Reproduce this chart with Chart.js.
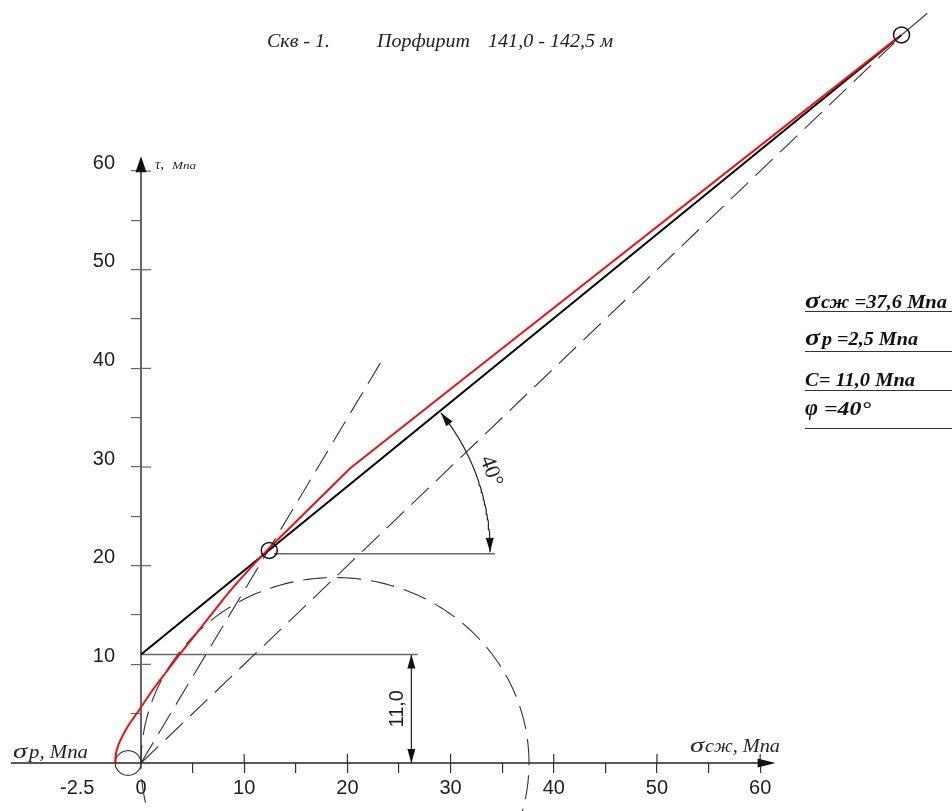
<!DOCTYPE html>
<html>
<head>
<meta charset="utf-8">
<script src="https://cdn.jsdelivr.net/npm/chart.js@4.4.1/dist/chart.umd.min.js"></script>
<style>
  html, body { margin: 0; padding: 0; background: #fff; }
  #wrap { width: 952px; height: 811px; }
</style>
</head>
<body>
<div id="wrap"><canvas id="chart" width="952" height="811"></canvas></div>
<script>
'use strict';

// axis ticks (labels only on multiples of 10)
const xTickValues = [0, 5, 10, 15, 20, 25, 30, 35, 40, 45, 50, 55, 60];
const yTickValues = [5, 10, 15, 20, 25, 30, 35, 40, 45, 50, 55, 60];

// test results
const sigmaCompr = 37.6;
const sigmaTens = 2.5;
const cohesion = 11.0;
const phiDeg = 40;

// Coulomb envelope (through both contact points)
const envX = [0, 73.7];
const envY = [11.0, 73.8];
const envExtX = [73.7, 76.2];
const envExtY = [73.8, 76.0];

// red experimental envelope
const redCurveX = [-2.5, -2.46, -2.3, -2.0, -1.4, -0.7, -0.1, 1.2, 2.5, 3.6, 5.4, 7.0, 8.6, 10.2, 11.7, 12.43];
const redCurveY = [0, 0.7, 1.5, 2.3, 3.5, 4.6, 5.5, 7.5, 9.3, 10.8, 13.2, 15.3, 17.4, 19.3, 21.0, 21.8];
const redLineX = [12.43, 20.3, 31.2, 73.3];
const redLineY = [21.8, 29.9, 38.9, 73.5];

// contact points (open circles)
const markX = [12.43, 73.7];
const markY = [21.55, 73.8];

// dashed rays from origin
const ray1X = [0, 23.4];
const ray1Y = [0, 40.9];
const ray2X = [0, 73.0];
const ray2Y = [0, 73.0];

// axes extent
const axisXStart = -12.6;
const axisXEnd = 61.5;
const axisYEnd = 61.5;

// cohesion dimension
const cLineEnd = 26.8;
const dimX = 26.2;

// angle mark
const angleBaseX = [12.9, 34.3];
const angleBaseY = 21.2;
const arcCx = 12.43, arcCy = 21.4;
const arcRx = 21.4, arcRy = 22.4;
const arcEnd = 39;

function pts(xs, ys) {
    return xs.map((x, i) => ({ x: x, y: ys[i] }));
}

function ellipse(cx, cy, rx, ry, a0, a1, n) {
    const out = [];
    for (let i = 0; i <= n; i++) {
        const t = (a0 + (a1 - a0) * i / n) * Math.PI / 180;
        out.push({ x: cx + rx * Math.cos(t), y: cy + ry * Math.sin(t) });
    }
    return out;
}

function line(data, opts) {
    return Object.assign({
        data: data,
        showLine: true,
        pointRadius: 0,
        clip: false,
        borderColor: '#000',
        borderWidth: 1,
        tension: 0,
        capBezierPoints: false
    }, opts);
}

function arrowHead(ctx, x, y, ang, len, hw, color) {
    ctx.save();
    ctx.translate(x, y);
    ctx.rotate(ang);
    ctx.beginPath();
    ctx.moveTo(0, 0);
    ctx.lineTo(-len, -hw);
    ctx.lineTo(-len, hw);
    ctx.closePath();
    ctx.fillStyle = color;
    ctx.fill();
    ctx.restore();
}

function fitText(ctx, s, x, y, font, color, width, rot, align) {
    ctx.save();
    ctx.font = font;
    ctx.fillStyle = color;
    ctx.textAlign = align || 'left';
    ctx.textBaseline = align ? 'middle' : 'alphabetic';
    ctx.translate(x, y);
    if (rot) ctx.rotate(rot);
    if (width) ctx.scale(width / ctx.measureText(s).width, 1);
    ctx.fillText(s, 0, 0);
    ctx.restore();
}

const labelColor = '#1d2233';
const serif = 'Liberation Serif';

const drawings = {
    id: 'drawings',
    afterDraw(chart) {
        const ctx = chart.ctx;
        const xs = chart.scales.x, ys = chart.scales.y;
        const px = v => xs.getPixelForValue(v);
        const py = v => ys.getPixelForValue(v);
        const x0 = px(0), y0 = py(0);

        ctx.save();
        // upper half of major x ticks, right half of major y ticks
        ctx.lineWidth = 1.2;
        ctx.strokeStyle = '#333';
        xTickValues.filter(v => v > 0 && v % 10 === 0).forEach(v => {
            ctx.beginPath();
            ctx.moveTo(px(v), y0);
            ctx.lineTo(px(v), y0 - 9);
            ctx.stroke();
        });
        ctx.strokeStyle = '#666';
        yTickValues.filter(v => v % 10 === 0).forEach(v => {
            ctx.beginPath();
            ctx.moveTo(x0, py(v));
            ctx.lineTo(x0 + 10, py(v));
            ctx.stroke();
        });
        ctx.restore();

        // arrowheads
        arrowHead(ctx, px(axisXEnd), y0, 0, 18, 4.5, '#111');
        arrowHead(ctx, x0, py(axisYEnd), -Math.PI / 2, 16, 5.5, '#111');
        arrowHead(ctx, px(dimX), py(cohesion), -Math.PI / 2, 14, 4, '#111');
        arrowHead(ctx, px(dimX), y0, Math.PI / 2, 14, 4, '#111');
        const arcPx = t => {
            const r = t * Math.PI / 180;
            return [px(arcCx + arcRx * Math.cos(r)), py(arcCy + arcRy * Math.sin(r))];
        };
        const a1 = arcPx(arcEnd), a1b = arcPx(arcEnd - 3);
        arrowHead(ctx, a1[0], a1[1], Math.atan2(a1[1] - a1b[1], a1[0] - a1b[0]), 14, 4, '#111');
        const b1 = arcPx(0), b1b = arcPx(3);
        arrowHead(ctx, b1[0], b1[1], Math.atan2(b1[1] - b1b[1], b1[0] - b1b[0]), 14, 4, '#111');

        // texts
        const tickFont = '20px "Liberation Sans"';
        fitText(ctx, '-2.5', px(-sigmaTens) - 38, 788, tickFont, '#1e1e1e', 0, 0, 'center');
        fitText(ctx, '11,0', px(dimX) - 14, py(cohesion / 2), tickFont, '#1e1e1e', 0, -Math.PI / 2, 'center');
        const arcMid = 20 * Math.PI / 180;
        const cpx = px(arcCx), cpy = py(arcCy), rpx = px(arcRx) - px(0);
        fitText(ctx, '40°', cpx + (rpx + 15) * Math.cos(arcMid), cpy - (rpx + 15) * Math.sin(arcMid),
            '22px "' + serif + '"', labelColor, 0, (90 - 20) * Math.PI / 180, 'center');

        // title
        const tFont = 'italic 18px "' + serif + '"';
        fitText(ctx, 'Скв - 1.', 267, 47, tFont, '#222', 63);
        fitText(ctx, 'Порфирит', 377, 47, tFont, '#222', 93);
        fitText(ctx, '141,0 - 142,5 м', 488, 47, tFont, '#222', 125);

        // axis names
        fitText(ctx, 'σ', 13, 758, 'italic 22px "' + serif + '"', labelColor, 14);
        fitText(ctx, 'р, Мпа', 29, 758, 'italic 18px "' + serif + '"', labelColor, 59);
        fitText(ctx, 'σ', 690, 752, 'italic 22px "' + serif + '"', labelColor, 14);
        fitText(ctx, 'сж, Мпа', 705, 752, 'italic 18px "' + serif + '"', labelColor, 75);
        fitText(ctx, 'τ,', 155, 169, 'italic 15px "' + serif + '"', labelColor, 0);
        fitText(ctx, 'Мпа', 172, 169, 'italic 11px "' + serif + '"', labelColor, 24);

        // parameter table
        const bFont = 'bold italic 18px "' + serif + '"';
        const gFont = 'bold italic 23px "' + serif + '"';
        fitText(ctx, 'σ', 805, 308, gFont, '#111', 15);
        fitText(ctx, 'сж =' + sigmaCompr.toFixed(1).replace('.', ',') + ' Мпа', 821, 308, bFont, '#111', 126);
        fitText(ctx, 'σ', 805, 345, gFont, '#111', 15);
        fitText(ctx, 'р =' + sigmaTens.toFixed(1).replace('.', ',') + ' Мпа', 822, 345, bFont, '#111', 96);
        fitText(ctx, 'C= ' + cohesion.toFixed(1).replace('.', ',') + ' Мпа', 805, 386, bFont, '#111', 110);
        fitText(ctx, 'φ', 805, 415, gFont, '#111', 13);
        fitText(ctx, '=' + phiDeg + '°', 824, 415, bFont, '#111', 47);
        ctx.save();
        ctx.strokeStyle = '#333';
        ctx.lineWidth = 1;
        [311.5, 351.5, 390.5, 428.5].forEach(y => {
            ctx.beginPath();
            ctx.moveTo(805, y);
            ctx.lineTo(952, y);
            ctx.stroke();
        });
        ctx.restore();
    }
};

const dashed = [24, 10];

new Chart(document.getElementById('chart'), {
    type: 'scatter',
    data: {
        datasets: [
            // open circles at contact points
            {
                data: pts(markX, markY),
                pointRadius: 8,
                pointStyle: 'circle',
                pointBackgroundColor: 'rgba(0,0,0,0)',
                pointBorderColor: '#111',
                pointBorderWidth: 1.5,
                showLine: false,
                clip: false
            },
            line(pts(redCurveX, redCurveY), { borderColor: '#ee1010', borderWidth: 2, tension: 0.4 }),
            line(pts(redLineX, redLineY), { borderColor: '#ee1010', borderWidth: 2 }),
            line(pts(envX, envY), { borderColor: '#000', borderWidth: 2 }),
            line(pts(envExtX, envExtY), { borderColor: '#444', borderWidth: 1.2 }),
            line(pts(ray1X, ray1Y), { borderColor: '#333', borderWidth: 1.1, borderDash: dashed }),
            line(pts(ray2X, ray2Y), { borderColor: '#333', borderWidth: 1.1, borderDash: dashed }),
            line(ellipse(sigmaCompr / 2, 0, sigmaCompr / 2, sigmaCompr / 2, 0, 360, 240),
                { borderColor: '#333', borderWidth: 1.1, borderDash: dashed }),
            line(ellipse(-sigmaTens / 2, 0, sigmaTens / 2, sigmaTens / 2, 0, 360, 60),
                { borderColor: '#333', borderWidth: 1.1 }),
            // cohesion level and dimension
            line(pts([0, cLineEnd], [cohesion, cohesion]), { borderColor: '#666', borderWidth: 1.5 }),
            line(pts([dimX, dimX], [0, cohesion]), { borderColor: '#222', borderWidth: 1.2 }),
            // angle mark
            line(pts(angleBaseX, [angleBaseY, angleBaseY]), { borderColor: '#666', borderWidth: 1.5 }),
            line(ellipse(arcCx, arcCy, arcRx, arcRy, 0, arcEnd, 60), { borderColor: '#222', borderWidth: 1.2 }),
            // axes
            line(pts([axisXStart, axisXEnd - 1], [0, 0]), { borderColor: '#222', borderWidth: 1.5 }),
            line(pts([0, 0], [0, axisYEnd - 1]), { borderColor: '#666', borderWidth: 2 })
        ]
    },
    options: {
        responsive: false,
        animation: false,
        events: [],
        layout: { padding: 0, autoPadding: false },
        plugins: {
            legend: { display: false },
            tooltip: { enabled: false }
        },
        scales: {
            x: {
                type: 'linear',
                position: 'bottom',
                bounds: 'data',
                afterDataLimits: s => { s.min = 0; s.max = 78.59; },
                afterBuildTicks: s => { s.ticks = xTickValues.map(v => ({ value: v })); },
                afterFit: s => {
                    s.height = 48;
                    s.paddingLeft = s.paddingRight = s.paddingTop = s.paddingBottom = 0;
                },
                border: { display: false },
                grid: {
                    drawOnChartArea: false,
                    tickLength: 10,
                    lineWidth: 1.2,
                    color: c => (c.tick && c.tick.value === 0) ? 'rgba(0,0,0,0)' : '#333'
                },
                ticks: {
                    autoSkip: false,
                    maxRotation: 0,
                    padding: 3,
                    color: '#1e1e1e',
                    font: { family: 'Liberation Sans', size: 20 },
                    callback: v => v % 10 === 0 ? String(v) : ''
                }
            },
            y: {
                type: 'linear',
                position: 'left',
                bounds: 'data',
                afterDataLimits: s => { s.min = 0; s.max = 77.34; },
                afterBuildTicks: s => { s.ticks = yTickValues.map(v => ({ value: v })); },
                afterFit: s => {
                    s.width = 141;
                    s.paddingLeft = s.paddingRight = s.paddingTop = s.paddingBottom = 0;
                },
                border: { display: false },
                grid: {
                    drawOnChartArea: false,
                    tickLength: 10,
                    lineWidth: 1.2,
                    color: '#666'
                },
                ticks: {
                    autoSkip: false,
                    padding: 16,
                    labelOffset: -8,
                    color: '#1e1e1e',
                    font: { family: 'Liberation Sans', size: 20 },
                    callback: v => v % 10 === 0 ? String(v) : ''
                }
            }
        }
    },
    plugins: [drawings]
});
</script>
</body>
</html>
